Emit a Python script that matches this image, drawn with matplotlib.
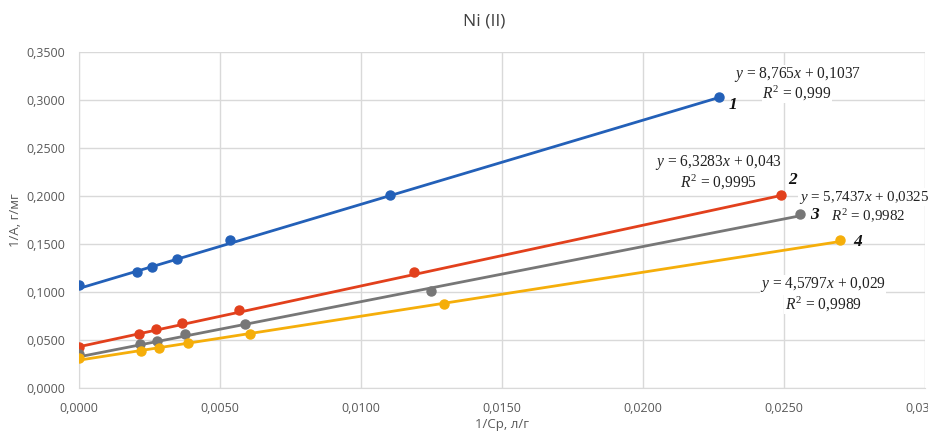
import matplotlib
matplotlib.use("Agg")
import matplotlib.pyplot as plt
import numpy as np
from matplotlib.ticker import FuncFormatter, MultipleLocator

plt.rcParams["mathtext.fontset"] = "custom"
plt.rcParams["mathtext.it"] = "Liberation Serif:italic"
plt.rcParams["mathtext.rm"] = "Liberation Serif"
plt.rcParams["mathtext.bf"] = "Liberation Serif:bold"

# ---- data ----
x1 = [0.0, 0.00205, 0.00258, 0.00346, 0.00534, 0.01102, 0.02269]
y1 = [0.1073, 0.121, 0.126, 0.134, 0.154, 0.201, 0.303]
x2 = [0.0, 0.00213, 0.00272, 0.00366, 0.00569, 0.01188, 0.02491]
y2 = [0.0424, 0.0563, 0.0615, 0.0674, 0.0813, 0.1211, 0.201]
x3 = [0.0, 0.00216, 0.00278, 0.00377, 0.00588, 0.01249, 0.02557]
y3 = [0.0354, 0.0458, 0.0486, 0.0559, 0.067, 0.101, 0.181]
x4 = [0.0, 0.00221, 0.00283, 0.00386, 0.00608, 0.01296, 0.02699]
y4 = [0.0309, 0.0389, 0.0413, 0.0472, 0.0563, 0.0875, 0.154]
slopes = [8.765, 6.3283, 5.7437, 4.5797]
intercepts = [0.1037, 0.043, 0.0325, 0.029]
eq_texts = ["y = 8,765x + 0,1037", "y = 6,3283x + 0,043",
            "y = 5,7437x + 0,0325", "y = 4,5797x + 0,029"]
r2_texts = ["0,999", "0,9995", "0,9982", "0,9989"]
series_labels = ["1", "2", "3", "4"]
colors = ["#2360b8", "#e2401c", "#777777", "#f5ae0a"]

fig = plt.figure(figsize=(9.29, 4.32), dpi=100)
ax = fig.add_axes([79/929, 44/432, (925-79)/929, (388-52)/432])

xs = [x1, x2, x3, x4]
ys = [y1, y2, y3, y4]
for xv, yv, k, b, c in zip(xs, ys, slopes, intercepts, colors):
    xl = np.array([0.0, max(xv)])
    ax.plot(xl, k*xl + b, color=c, lw=2.0, zorder=3)
    ax.plot(xv, yv, 'o', color=c, ms=6.5, zorder=4)

ax.set_xlim(0, 0.03)
ax.set_ylim(0, 0.35)
ax.xaxis.set_major_locator(MultipleLocator(0.005))
ax.yaxis.set_major_locator(MultipleLocator(0.05))
fmt = FuncFormatter(lambda v, p: f"{v:.4f}".replace(".", ","))
ax.xaxis.set_major_formatter(fmt)
ax.yaxis.set_major_formatter(fmt)
ax.grid(True, color="#d9d9d9", lw=1.0, zorder=0)
ax.set_axisbelow(True)
for s in ["top", "right"]:
    ax.spines[s].set_visible(False)
for s in ["left", "bottom"]:
    ax.spines[s].set_color("#d9d9d9")
ax.tick_params(length=0, labelsize=9, colors="#595959", pad=10)
for lab in ax.get_xticklabels() + ax.get_yticklabels():
    lab.set_family("Open Sans")

ax.set_xlabel("1/Cр, л/г", fontsize=9.5, color="#595959", family="Open Sans", labelpad=2)
ax.set_ylabel("1/A, г/мг", fontsize=9.5, color="#595959", family="Open Sans", labelpad=3)
fig.text(484/929, 1 - 22/432, "Ni (II)", ha="center", va="center",
         fontsize=12.5, color="#404040", family="Open Sans")

# annotations (pixel coords -> figure fraction)
def fx(px): return px/929
def fy(py): return 1 - py/432

serif = "Liberation Serif"
eq_pos = [(798, 75, "center", 11.2), (718, 162, "center", 11.2),
          (929, 197, "right", 10.8), (823, 285, "center", 11.2)]
r2_pos = [(797, 93), (718, 182), (868, 216), (823, 304)]
for (ex, ey, ha, fs), (rx, ry), eq, r2 in zip(eq_pos, r2_pos, eq_texts, r2_texts):
    t = eq.replace("y =", "$y$ =").replace("x +", "$x$ +")
    fig.text(fx(ex), fy(ey), t, ha=ha, va="center", fontsize=fs,
             family=serif, color="#222222",
             bbox=dict(facecolor="white", edgecolor="none", pad=0.2))
    fig.text(fx(rx), fy(ry), "$R^2$ = " + r2, ha="center", va="center", fontsize=fs,
             family=serif, color="#222222",
             bbox=dict(facecolor="white", edgecolor="none", pad=0.2))

num_pos = [(733, 105), (793, 180), (815, 215), (858, 242)]
for (nx, ny), lab in zip(num_pos, series_labels):
    fig.text(fx(nx), fy(ny), lab, ha="center", va="center", fontsize=12.5,
             family=serif, style="italic", weight="bold", color="#111111")

fig.savefig("out.png", dpi=100)
